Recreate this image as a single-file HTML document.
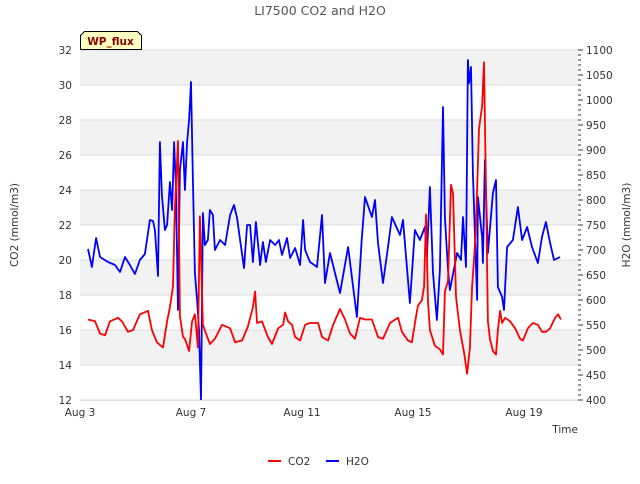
<!DOCTYPE html>
<html><head><meta charset="utf-8"><style>
body{margin:0;background:#fff;font-family:"DejaVu Sans","Liberation Sans",sans-serif}
svg text{font-family:"DejaVu Sans","Liberation Sans",sans-serif}
</style></head><body>
<svg id="chart" width="640" height="480" viewBox="0 0 640 480" xmlns="http://www.w3.org/2000/svg">
<rect width="640" height="480" fill="#fff"/>
<text x="320" y="15" text-anchor="middle" font-size="12.5" fill="#555">LI7500 CO2 and H2O</text>
<g id="grid"></g>
<g id="series"></g>
<g id="axes"></g>
<text transform="translate(18,225) rotate(-90)" text-anchor="middle" font-size="10.5" fill="#333">CO2 (mmol/m3)</text>
<text transform="translate(630,225) rotate(-90)" text-anchor="middle" font-size="10.5" fill="#333">H2O (mmol/m3)</text>
<text x="578" y="433" text-anchor="end" font-size="10.5" fill="#333">Time</text>
<g>
<path d="M80.5,49.5 L80.5,35.5 L84.5,31.5 L137.5,31.5 L141.5,35.5 L141.5,49.5 Z" fill="#ffffc0" stroke="#000" stroke-width="1"/>
<text x="110.5" y="45" text-anchor="middle" font-size="10.5" font-weight="bold" fill="#8b0000">WP_flux</text>
</g>
<g>
<g><line x1="268" y1="461" x2="281" y2="461" stroke="#f00" stroke-width="2"/><text x="288" y="465" font-size="10.5" fill="#333">CO2</text></g>
<g><line x1="326" y1="461" x2="339" y2="461" stroke="#00f" stroke-width="2"/><text x="346" y="465" font-size="10.5" fill="#333">H2O</text></g>
</g>
</svg>
<script>
const co2Days=[3.29,3.54,3.72,3.90,4.08,4.37,4.51,4.73,4.91,5.16,5.45,5.59,5.77,5.99,6.14,6.24,6.35,6.42,6.53,6.60,6.71,6.78,6.93,7.04,7.14,7.25,7.32,7.43,7.54,7.68,7.86,8.12,8.41,8.59,8.84,9.05,9.23,9.31,9.38,9.56,9.77,9.92,10.14,10.32,10.39,10.50,10.64,10.75,10.93,11.11,11.29,11.58,11.72,11.94,12.12,12.37,12.55,12.73,12.91,13.09,13.27,13.52,13.74,13.92,14.17,14.46,14.60,14.82,14.96,15.11,15.18,15.32,15.40,15.47,15.54,15.61,15.79,15.97,16.08,16.15,16.26,16.37,16.44,16.55,16.69,16.84,16.95,17.05,17.13,17.20,17.27,17.38,17.49,17.56,17.63,17.70,17.77,17.88,17.99,18.06,18.14,18.21,18.32,18.50,18.68,18.86,18.96,19.14,19.32,19.50,19.65,19.79,19.94,20.12,20.23,20.33];
const co2Values=[16.6,16.5,15.8,15.7,16.5,16.7,16.5,15.9,16.0,16.9,17.1,16.0,15.3,15.0,16.5,17.3,18.5,23,26.8,16.8,15.6,15.5,14.8,16.5,16.9,15.0,22.5,16.3,15.8,15.2,15.5,16.3,16.1,15.3,15.4,16.2,17.3,18.2,16.4,16.5,15.6,15.2,16.1,16.3,17.0,16.5,16.3,15.6,15.4,16.3,16.4,16.4,15.6,15.4,16.3,17.2,16.6,15.8,15.5,16.7,16.6,16.6,15.6,15.5,16.4,16.7,15.9,15.4,15.3,16.8,17.4,17.7,18.5,22.6,17.6,16.0,15.1,14.9,14.6,18.2,18.8,24.3,23.8,17.9,16.0,14.7,13.5,15.0,18.5,20.0,22.0,27.5,28.8,31.3,24.0,16.5,15.5,14.8,14.6,16.0,17.1,16.4,16.7,16.5,16.1,15.5,15.4,16.1,16.4,16.3,15.9,15.9,16.1,16.7,16.9,16.6];
const h2oDays=[3.29,3.43,3.58,3.72,4.01,4.26,4.44,4.62,4.80,4.98,5.16,5.34,5.52,5.63,5.70,5.81,5.88,5.95,6.06,6.14,6.24,6.32,6.39,6.46,6.53,6.60,6.71,6.78,6.86,6.93,7.00,7.07,7.14,7.22,7.29,7.36,7.43,7.50,7.61,7.68,7.79,7.86,8.05,8.23,8.41,8.55,8.66,8.77,8.91,9.02,9.13,9.23,9.34,9.49,9.59,9.70,9.85,10.03,10.17,10.28,10.46,10.57,10.75,10.93,11.04,11.11,11.29,11.54,11.72,11.83,12.01,12.37,12.66,12.98,13.15,13.27,13.52,13.63,13.74,13.92,14.10,14.24,14.53,14.64,14.89,15.07,15.25,15.43,15.50,15.61,15.72,15.86,15.97,16.08,16.15,16.26,16.33,16.59,16.73,16.80,16.91,16.98,17.02,17.09,17.16,17.31,17.34,17.49,17.52,17.59,17.70,17.88,17.99,18.06,18.21,18.28,18.39,18.60,18.78,18.93,19.11,19.29,19.50,19.65,19.79,19.94,20.08,20.30];
const h2oValues=[702,666,724,686,676,670,656,686,670,652,680,692,760,758,740,648,916,810,740,750,836,780,916,820,580,860,916,820,916,960,1036,840,654,600,540,400,774,710,720,780,770,700,720,710,770,790,764,720,664,750,750,676,756,670,716,676,720,710,720,690,724,684,704,670,760,700,676,666,770,634,694,614,706,566,720,806,766,800,714,634,706,766,730,760,594,740,720,746,686,826,654,560,660,986,766,660,620,694,680,766,666,1080,1034,1066,854,600,806,726,674,880,694,814,840,626,606,580,706,720,786,720,746,706,674,726,756,714,680,686];
const co2Ticks=[12,14,16,18,20,22,24,26,28,30,32];
const h2oTicks=[400,450,500,550,600,650,700,750,800,850,900,950,1000,1050,1100];
const dayTicks=[3,7,11,15,19];
const dayLabels=["Aug 3","Aug 7","Aug 11","Aug 15","Aug 19"];

const L=80,R=578,T=50,B=400;
const xs=d=>L+(d-3)*27.75;
const yL=v=>B-(v-12)/20*(B-T);
const yR=v=>B-(v-400)/700*(B-T);
const NS="http://www.w3.org/2000/svg";
function mk(tag,attrs,parent){const e=document.createElementNS(NS,tag);for(const k in attrs)e.setAttribute(k,attrs[k]);parent.appendChild(e);return e;}
const grid=document.getElementById('grid'),axes=document.getElementById('axes'),series=document.getElementById('series');
for(let i=0;i<co2Ticks.length-1;i++){
  if(i%2===1){const b=mk('rect',{x:L,y:yL(co2Ticks[i+1]),width:R-L,height:yL(co2Ticks[i])-yL(co2Ticks[i+1]),fill:'#f2f2f2'},grid);
  
  }
}
co2Ticks.forEach(v=>{
  const g=mk('line',{x1:L,x2:R,y1:yL(v),y2:yL(v),stroke:'#dcdcdc','stroke-width':1},grid);
  
  
  const t=mk('text',{x:L-8,y:yL(v)+4,'text-anchor':'end','font-size':10.5,fill:'#333'},axes);
  
  
  t.textContent=v;
});
for(let v=400;v<=1100;v+=10){
  const major=v%50===0;
  const tk=mk('line',{x1:R,x2:R+(major?5:3),y1:yR(v),y2:yR(v),stroke:'#333','stroke-width':1},axes);
  
  
}
h2oTicks.forEach(v=>{
  const t=mk('text',{x:R+8,y:yR(v)+4,'font-size':10.5,fill:'#333'},axes);
  
  
  t.textContent=v;
});
dayTicks.forEach((d,i)=>{
  const t=mk('text',{x:xs(d),y:416,'text-anchor':'middle','font-size':10.5,fill:'#333'},axes);
  
  
  t.textContent=dayLabels[i];
});
const bl=mk('line',{x1:L,x2:R,y1:B+0.5,y2:B+0.5,stroke:'#dcdcdc'},axes);


const h=mk('polyline',{points:h2oDays.map((d,i)=>xs(d).toFixed(1)+','+yR(h2oValues[i]).toFixed(1)).join(' '),fill:'none',stroke:'#00f','stroke-width':1.8,'stroke-linejoin':'round'},series);


const c=mk('polyline',{points:co2Days.map((d,i)=>xs(d).toFixed(1)+','+yL(co2Values[i]).toFixed(1)).join(' '),fill:'none',stroke:'#f00','stroke-width':1.8,'stroke-linejoin':'round'},series);


</script>
</body></html>
